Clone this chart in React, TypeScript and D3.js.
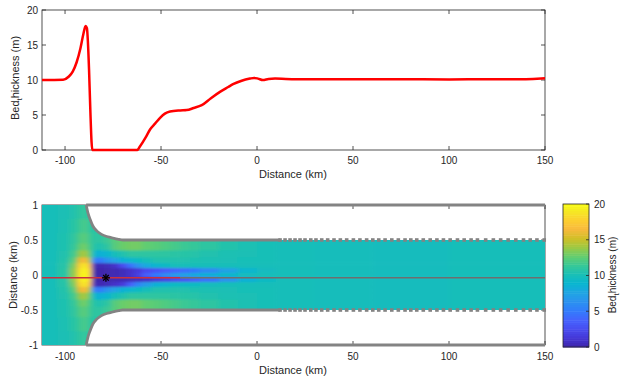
import React from "react";
import * as d3 from "d3";

const W = 624;
const H = 381;

// ---- top panel: bed thickness along the centre line ----
const profileKm = [-112, -101, -98, -96, -94, -92, -90.5, -89.3, -88.6, -88.1, -87.5, -86.8, -86.2, -85.8, -62.4, -61, -58, -55.8, -53, -50.5, -48, -45.3, -40, -36.6, -33, -28.8, -24, -19.3, -15, -12.5, -8, -3.7, -1.5, 0.5, 3, 6, 9.4, 15, 25, 40, 60, 80, 100, 120, 140, 148, 150];
const profileThk = [10, 10.05, 10.5, 11.2, 12.5, 14.5, 16.5, 17.7, 17.4, 15.5, 11.5, 5.5, 1.2, 0, 0, 0.5, 1.8, 2.9, 3.8, 4.6, 5.2, 5.5, 5.65, 5.7, 6.0, 6.4, 7.4, 8.3, 9.0, 9.4, 9.9, 10.2, 10.3, 10.2, 10.0, 10.15, 10.2, 10.15, 10.1, 10.1, 10.12, 10.1, 10.08, 10.1, 10.1, 10.2, 10.25];

const xTicks = [-100, -50, 0, 50, 100, 150];
const topYTicks = [0, 5, 10, 15, 20];
const bottomYTicks = [-1, -0.5, 0, 0.5, 1];
const cbTicks = [0, 5, 10, 15, 20];

// ---- bottom panel: plan-view thickness field (columns of cells, top y=1 to bottom y=-1) ----
const gridXEdges = [-112, -104, -98, -94, -92, -90, -88, -86, -84, -80, -76, -72, -68, -64, -60, -55, -50, -45, -40, -35, -30, -20, -10, 0, 10, 30, 60, 100, 150];
const gridYEdges = [1, 0.8, 0.6, 0.45, 0.35, 0.25, 0.17, 0.1, 0.03, -0.03, -0.1, -0.17, -0.25, -0.35, -0.45, -0.6, -0.8, -1];
const thicknessColumns = [
  [10, 10, 10, 10, 10, 10, 10, 10, 10, 10, 10, 10, 10, 10, 10, 10, 10],
  [10.2, 10.3, 10.4, 10.4, 10.5, 10.6, 10.7, 10.8, 10.8, 10.8, 10.7, 10.6, 10.5, 10.4, 10.4, 10.3, 10.2],
  [10.5, 10.8, 11, 11.2, 11.6, 12.2, 13, 13.5, 13.5, 13.5, 13, 12.2, 11.6, 11.2, 11, 10.8, 10.5],
  [11, 11.4, 11.9, 12.4, 13.5, 15.5, 17.2, 18, 18.3, 18, 17.2, 15.5, 13.5, 12.4, 11.9, 11.4, 11],
  [11.2, 11.8, 12.3, 13, 14.2, 16.5, 18.8, 19.5, 19.8, 19.5, 18.8, 16.5, 14.2, 13, 12.3, 11.8, 11.2],
  [11.2, 11.8, 12.3, 12.8, 14, 16.3, 18.8, 19.5, 19.8, 19.5, 18.8, 16.3, 14, 12.8, 12.3, 11.8, 11.2],
  [10.8, 11.2, 11.5, 11.8, 12.5, 14, 16.5, 17.5, 17.5, 17.5, 16.5, 14, 12.5, 11.8, 11.5, 11.2, 10.8],
  [10.5, 10.8, 11, 10.8, 9.5, 5.5, 0.5, 0.2, 0.2, 0.2, 0.5, 5.5, 9.5, 10.8, 11, 10.8, 10.5],
  [10.5, 10.8, 11, 10.5, 8.5, 5, 0.3, 0.1, 0.1, 0.1, 0.3, 5, 8.5, 10.5, 11, 10.8, 10.5],
  [10.8, 11, 11.5, 11, 9, 6.5, 0.5, 0.2, 0.2, 0.2, 0.5, 6.5, 9, 11, 11.5, 11, 10.8],
  [12, 12, 12.3, 12.3, 10, 7.5, 1, 0.3, 0.3, 0.3, 1, 7.5, 10, 12.3, 12.3, 12, 12],
  [12.8, 12.8, 12.8, 12.8, 10.5, 8.5, 2.5, 0.5, 0.5, 0.4, 1.5, 8.5, 10.5, 12.8, 12.8, 12.8, 12.8],
  [13, 13, 13, 13, 11, 9, 4.5, 1, 1, 0.5, 3.5, 9, 11, 13, 13, 13, 13],
  [13, 13, 13, 13, 11, 9.5, 6.5, 1.5, 1.8, 0.7, 5.5, 9.5, 11, 13, 13, 13, 13],
  [12.6, 12.6, 12.6, 12.6, 11, 10, 8, 2.5, 3.5, 1, 7, 10, 11, 12.6, 12.6, 12.6, 12.6],
  [12.4, 12.4, 12.4, 12.4, 11, 10.5, 9, 3, 5, 1.5, 8.5, 10.5, 11, 12.4, 12.4, 12.4, 12.4],
  [12.1, 12.1, 12.1, 12.1, 11, 10.5, 9.5, 3.5, 6, 2, 9, 10.5, 11, 12.1, 12.1, 12.1, 12.1],
  [11.8, 11.8, 11.8, 11.8, 10.9, 10.5, 10, 4, 7, 2.5, 9.5, 10.5, 10.9, 11.8, 11.8, 11.8, 11.8],
  [11.5, 11.5, 11.5, 11.5, 10.8, 10.5, 10, 4.5, 7.5, 3, 9.5, 10.5, 10.8, 11.5, 11.5, 11.5, 11.5],
  [11.3, 11.3, 11.3, 11.3, 10.7, 10.4, 10, 5, 8, 3.5, 9.5, 10.4, 10.7, 11.3, 11.3, 11.3, 11.3],
  [11, 11, 11, 11, 10.5, 10.3, 10, 6, 8.5, 4.5, 9.8, 10.3, 10.5, 11, 11, 11, 11],
  [10.6, 10.6, 10.6, 10.6, 10.3, 10.2, 10, 7.5, 9.2, 6.5, 10, 10.2, 10.3, 10.6, 10.6, 10.6, 10.6],
  [10.3, 10.3, 10.3, 10.3, 10.2, 10.1, 10, 9, 9.8, 8.5, 10, 10.1, 10.2, 10.3, 10.3, 10.3, 10.3],
  [10.1, 10.1, 10.1, 10.1, 10.1, 10.1, 10, 9.7, 10, 9.5, 10, 10.1, 10.1, 10.1, 10.1, 10.1, 10.1],
  [10, 10, 10, 10, 10, 10, 10, 10, 10, 10, 10, 10, 10, 10, 10, 10, 10],
  [9.9, 9.9, 9.9, 9.9, 9.9, 9.9, 9.9, 9.9, 9.9, 9.9, 9.9, 9.9, 9.9, 9.9, 9.9, 9.9, 9.9],
  [9.8, 9.8, 9.8, 9.8, 9.8, 9.8, 9.8, 9.8, 9.8, 9.8, 9.8, 9.8, 9.8, 9.8, 9.8, 9.8, 9.8],
  [10, 10, 10, 10, 10, 10, 10, 10, 10, 10, 10, 10, 10, 10, 10, 10, 10],
];

// channel walls
const wallKm = [-89, -88, -87, -85.5, -83.5, -81, -78.3, -76, -74, -72, -70];
const wallHalfWidth = [1, 0.88, 0.8, 0.7, 0.63, 0.58, 0.55, 0.535, 0.52, 0.51, 0.5];
const wallSolidEndKm = 12;
const wallMarkerKm = [12, 14.6, 17.2, 19.8, 22.4, 25, 28, 30.7, 33.7, 36.8, 40.1, 43.4, 46.7, 50.2, 53.6, 57.1, 60.3, 63.4, 66.7, 70.2, 73.6, 77.1, 80.1, 83.2, 86.6, 90.2, 93.7, 97.1, 100.6, 104.4, 107.9, 111.5, 114.8, 119.1, 123.1, 126.9, 130.8, 134.8, 138.8, 142.3, 145.8, 149.6];
const centerlineY = -0.04;
const centerRedEndKm = -40;
const starPoint = [-78.7, -0.04];

// parula colormap stops
const parulaStops = ["#3e26a8", "#4537d5", "#484df0", "#4563fd", "#327cfc", "#2b91ef", "#20a5e3", "#08b5d0", "#19bfb6", "#37c897", "#64cd6f", "#9dc943", "#d1bf27", "#f8ba3d", "#fccf30", "#f5e924", "#f9fb15"];
const parulaIdx = [0, 4, 8, 12, 16, 20, 24, 28, 32, 36, 40, 44, 48, 52, 56, 60, 63];

const FONT = "'Liberation Sans', Arial, Helvetica, sans-serif";
const AX = "#262626";
const WALL = "#838383";

export default function App() {
  const x = d3.scaleLinear().domain([-112, 150]).range([42, 545]);
  const yTop = d3.scaleLinear().domain([0, 20]).range([150, 10]);
  const yBot = d3.scaleLinear().domain([-1, 1]).range([345, 205]);
  const cbY = d3.scaleLinear().domain([0, 20]).range([347, 204]);
  const color = d3
    .scaleLinear<string>()
    .domain(parulaIdx.map((i) => (i / 63) * 20))
    .range(parulaStops)
    .clamp(true);

  const profilePath = d3
    .line<number>()
    .x((_, i) => x(profileKm[i]))
    .y((d) => yTop(d))
    .curve(d3.curveMonotoneX)(profileThk) as string;

  const wallLine = d3
    .line<[number, number]>()
    .x((d) => x(d[0]))
    .y((d) => yBot(d[1]))
    .curve(d3.curveMonotoneX);

  const topWall: [number, number][] = wallKm.map((k, i) => [k, wallHalfWidth[i]]);
  const topOutline: [number, number][] = [[-112, 1], ...topWall, [150, 0.5]];
  const botOutline: [number, number][] = topOutline.map((p) => [p[0], -p[1]]);
  const halfTopD = (wallLine(topOutline) as string) + `L${x(150)},${yBot(0)}L${x(-112)},${yBot(0)}Z`;
  const halfBotD = (wallLine(botOutline) as string) + `L${x(150)},${yBot(0)}L${x(-112)},${yBot(0)}Z`;

  const wallPts: [number, number][] = [...topWall, [wallSolidEndKm, 0.5]];
  const wallTopD = wallLine(wallPts) as string;
  const wallBotD = wallLine(wallPts.map((p) => [p[0], -p[1]] as [number, number])) as string;

  const cells: React.ReactNode[] = [];
  thicknessColumns.forEach((col, c) => {
    col.forEach((v, r) => {
      let x0 = x(gridXEdges[c]);
      let x1 = x(gridXEdges[c + 1]);
      let y0 = yBot(gridYEdges[r]);
      let y1 = yBot(gridYEdges[r + 1]);
      if (c === 0) x0 -= 12;
      if (c === thicknessColumns.length - 1) x1 += 12;
      if (r === 0) y0 -= 12;
      if (r === col.length - 1) y1 += 12;
      cells.push(
        <rect key={`${c}-${r}`} x={x0} y={y0} width={x1 - x0 + 0.6} height={y1 - y0 + 0.6} fill={color(v)} />
      );
    });
  });

  const cbN = 64;
  const cbRects = d3.range(cbN).map((i) => {
    const v0 = (i / cbN) * 20;
    const v1 = ((i + 1) / cbN) * 20;
    return (
      <rect key={i} x={563} y={cbY(v1)} width={26} height={cbY(v0) - cbY(v1) + 0.5} fill={color((v0 + v1) / 2)} />
    );
  });

  const sx = x(starPoint[0]);
  const sy = yBot(starPoint[1]);

  const bedLabel = (
    <>
      Bed<tspan dy={2.5} fontSize={8}>t</tspan>
      <tspan dy={-2.5}>hickness (m)</tspan>
    </>
  );

  return (
    <svg width={W} height={H} style={{ position: "absolute", left: 0, top: 0, background: "#fff" }} fontFamily={FONT}>
      <defs>
        <clipPath id="channel">
          <path d={halfTopD} />
          <path d={halfBotD} />
        </clipPath>
        <filter id="smooth" filterUnits="userSpaceOnUse" x={0} y={180} width={600} height={200}>
          <feGaussianBlur stdDeviation="2.6 0.8" />
        </filter>
      </defs>

      {/* ---------- top panel ---------- */}
      <rect x={42} y={10} width={503} height={140} fill="none" stroke={AX} strokeWidth={0.8} />
      {xTicks.map((t) => (
        <g key={"tx" + t}>
          <line x1={x(t)} x2={x(t)} y1={150} y2={146} stroke={AX} strokeWidth={0.8} />
          <line x1={x(t)} x2={x(t)} y1={10} y2={14} stroke={AX} strokeWidth={0.8} />
          <text x={x(t)} y={164} fontSize={10} textAnchor="middle" fill={AX}>
            {t}
          </text>
        </g>
      ))}
      {topYTicks.map((t) => (
        <g key={"ty" + t}>
          <line x1={42} x2={46} y1={yTop(t)} y2={yTop(t)} stroke={AX} strokeWidth={0.8} />
          <line x1={545} x2={541} y1={yTop(t)} y2={yTop(t)} stroke={AX} strokeWidth={0.8} />
          <text x={38} y={yTop(t) + 3.5} fontSize={10} textAnchor="end" fill={AX}>
            {t}
          </text>
        </g>
      ))}
      <path d={profilePath} fill="none" stroke="#ff0000" strokeWidth={2.5} strokeLinejoin="round" />
      <text x={293} y={178} fontSize={11} textAnchor="middle" fill={AX}>
        Distance (km)
      </text>
      <text transform="translate(19,78) rotate(-90)" fontSize={11} textAnchor="middle" fill={AX}>
        {bedLabel}
      </text>

      {/* ---------- bottom panel ---------- */}
      <rect x={42} y={205} width={503} height={140} fill="none" stroke={AX} strokeWidth={0.8} />
      {xTicks.map((t) => (
        <g key={"bx" + t}>
          <line x1={x(t)} x2={x(t)} y1={345} y2={341} stroke={AX} strokeWidth={0.8} />
          <line x1={x(t)} x2={x(t)} y1={205} y2={209} stroke={AX} strokeWidth={0.8} />
          <text x={x(t)} y={359.5} fontSize={10} textAnchor="middle" fill={AX}>
            {t}
          </text>
        </g>
      ))}
      {bottomYTicks.map((t) => (
        <g key={"by" + t}>
          <line x1={545} x2={541} y1={yBot(t)} y2={yBot(t)} stroke={AX} strokeWidth={0.8} />
          <text x={38} y={yBot(t) + 3.5} fontSize={10} textAnchor="end" fill={AX}>
            {t}
          </text>
        </g>
      ))}
      <g clipPath="url(#channel)">
        <g filter="url(#smooth)">{cells}</g>
      </g>
      {/* outer banks */}
      <line x1={x(wallKm[0])} x2={x(150)} y1={yBot(1)} y2={yBot(1)} stroke={WALL} strokeWidth={2.8} />
      <line x1={x(wallKm[0])} x2={x(150)} y1={yBot(-1)} y2={yBot(-1)} stroke={WALL} strokeWidth={2.8} />
      <path d={wallTopD} fill="none" stroke={WALL} strokeWidth={2.8} />
      <path d={wallBotD} fill="none" stroke={WALL} strokeWidth={2.8} />
      {wallMarkerKm.map((k) => (
        <g key={"m" + k}>
          <rect x={x(k) - 1.8} y={yBot(0.5) - 1.8} width={3.6} height={3.6} fill={WALL} />
          <rect x={x(k) - 1.8} y={yBot(-0.5) - 1.8} width={3.6} height={3.6} fill={WALL} />
        </g>
      ))}
      <line x1={x(-112)} x2={x(centerRedEndKm)} y1={yBot(centerlineY)} y2={yBot(centerlineY)} stroke="#c8303f" strokeWidth={1.5} />
      <line x1={x(centerRedEndKm)} x2={x(150)} y1={yBot(centerlineY)} y2={yBot(centerlineY)} stroke="#6e6e6e" strokeWidth={1.5} />
      <g stroke="#000" strokeWidth={1.3}>
        <line x1={sx - 4} x2={sx + 4} y1={sy} y2={sy} />
        <line x1={sx} x2={sx} y1={sy - 4} y2={sy + 4} />
        <line x1={sx - 2.8} x2={sx + 2.8} y1={sy - 2.8} y2={sy + 2.8} />
        <line x1={sx - 2.8} x2={sx + 2.8} y1={sy + 2.8} y2={sy - 2.8} />
      </g>
      <text x={293} y={374} fontSize={11} textAnchor="middle" fill={AX}>
        Distance (km)
      </text>
      <text transform="translate(17,275) rotate(-90)" fontSize={11} textAnchor="middle" fill={AX}>
        Distance (km)
      </text>

      {/* ---------- colorbar ---------- */}
      {cbRects}
      <rect x={563} y={204} width={26} height={143} fill="none" stroke={AX} strokeWidth={0.8} />
      {cbTicks.map((t) => (
        <g key={"cb" + t}>
          <line x1={589} x2={586} y1={cbY(t)} y2={cbY(t)} stroke={AX} strokeWidth={0.8} />
          <text x={594} y={cbY(t) + 3.5} fontSize={10} textAnchor="start" fill={AX}>
            {t}
          </text>
        </g>
      ))}
      <text transform="translate(616,275) rotate(-90)" fontSize={10} textAnchor="middle" fill={AX}>
        {bedLabel}
      </text>
    </svg>
  );
}
